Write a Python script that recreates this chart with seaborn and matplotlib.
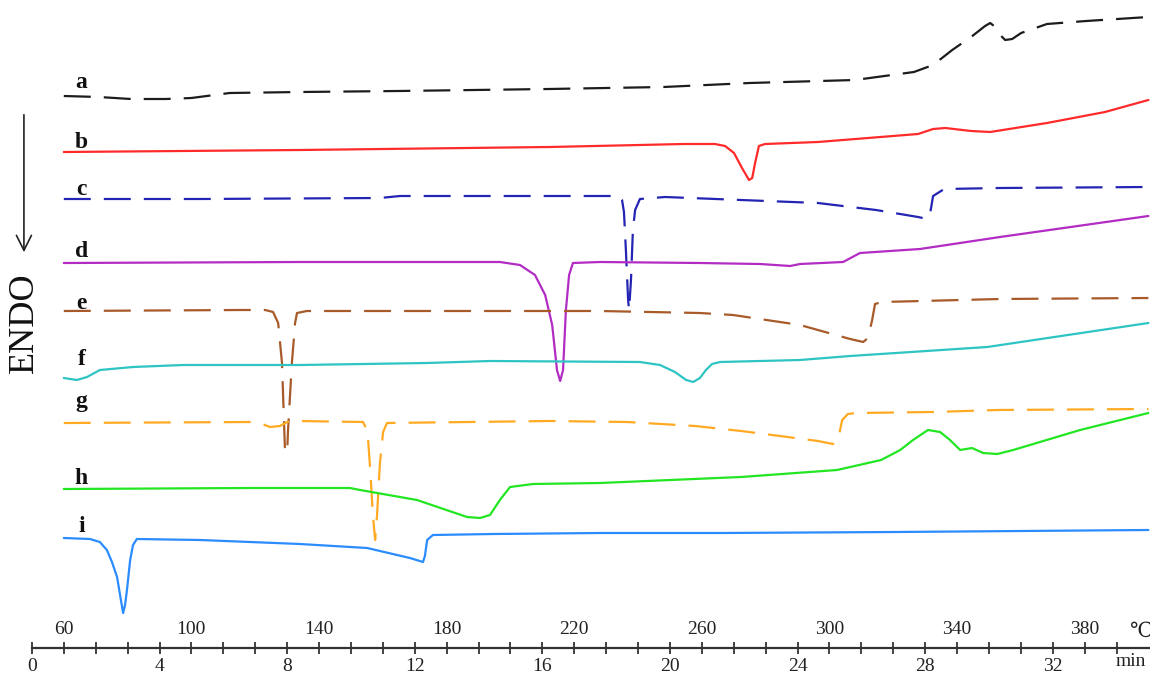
import matplotlib
matplotlib.use("Agg")
import numpy as np
import pandas as pd
import seaborn as sns
import matplotlib.pyplot as plt

# ---------------- data (temperature in °C, heat flow relative to start, arbitrary units) -------------
a_T = [60, 71, 81, 92, 100, 112, 134, 165, 212, 248, 275, 308, 326.5, 332.5, 338.5, 344.4, 348.8, 350.4,
       351.6, 352.9, 355.1, 357.3, 360.1, 368.2, 380.5, 400]
a_HF = [0, -0.1, -0.3, -0.3, -0.2, 0.3, 0.4, 0.5, 0.7, 0.9, 1.3, 1.6, 2.4, 3.1, 4.6, 5.9, 7.0, 7.3,
        7.0, 6.3, 5.6, 5.7, 6.3, 7.2, 7.5, 7.9]

b_T = [60, 134, 212.4, 254.4, 264.1, 267.3, 270.1, 272.6, 274.8, 275.8, 276.7, 277.9, 279.8, 296.4,
       327.8, 332.5, 336.3, 344.4, 350.4, 368.2, 386.4, 400]
b_HF = [0, 0.2, 0.5, 0.8, 0.8, 0.6, -0.1, -1.6, -2.8, -2.6, -1.1, 0.6, 0.8, 1.0,
        1.8, 2.3, 2.4, 2.1, 2.0, 2.9, 4.0, 5.2]

c_T = [60, 102.7, 159.1, 165.4, 234.1, 235.0, 235.6, 236.2, 236.9, 237.2, 237.8, 238.4, 239.1, 240.6,
       248.5, 272.3, 296.4, 314.6, 327.8, 330.6, 331.6, 332.5, 336.0, 353.5, 400]
c_HF = [0, 0, 0.1, 0.3, 0.3, -0.1, -1.3, -5.1, -10.1, -11.1, -8.1, -3.1, -1.1, 0,
        0.2, -0.1, -0.4, -1.1, -1.8, -2.0, -1.4, 0.3, 1.0, 1.1, 1.2]

d_T = [60, 134, 196.7, 203.0, 207.7, 210.9, 213.1, 214.6, 215.6, 216.5, 217.4, 218.4, 219.6, 228.1,
       259.4, 278.3, 287.7, 290.8, 304.3, 309.6, 328.4, 353.5, 400]
d_HF = [0, 0.1, 0.1, -0.2, -1.2, -3.2, -6.2, -10.7, -11.8, -10.7, -4.7, -1.2, 0, 0.1,
        0, -0.1, -0.3, -0.1, 0.1, 1.0, 1.4, 2.6, 4.7]

e_T = [60, 115.2, 123.1, 125.6, 127.2, 128.4, 129.3, 130.0, 130.3, 131.5, 132.5, 133.1, 136.2, 212.4,
       228.1, 259.4, 269.8, 290.8, 306.5, 310.6, 312.1, 313.4, 314.3, 316.5, 353.5, 400]
e_HF = [0, 0.1, 0.1, -0.1, -1.2, -5.2, -13.6, -14.2, -11.9, -5.2, -1.2, -0.2, 0, 0,
        0, -0.2, -0.4, -1.4, -2.8, -3.1, -2.7, -0.9, 0.7, 0.9, 1.2, 1.3]

f_T = [60, 64.1, 67.3, 71.3, 81.7, 97.4, 134, 173.9, 193.6, 240.6, 246.9, 251.6, 255.1, 257.3,
       259.4, 261.3, 263.2, 265.7, 290.8, 306.5, 349.5, 400]
f_HF = [0, -0.2, 0.1, 0.8, 1.1, 1.3, 1.3, 1.5, 1.7, 1.6, 1.3, 0.6, -0.2, -0.4,
        0, 0.8, 1.4, 1.6, 1.8, 2.2, 3.1, 5.5]

g_T = [60, 118.4, 122.2, 124.6, 127.8, 130.0, 133.1, 153.8, 154.7, 155.4, 156.0, 156.9, 157.6, 158.2,
       159.1, 160.1, 161.3, 212.4, 236.6, 257.9, 272.3, 284.5, 296.4, 301.1, 302.7, 304.0, 305.8,
       308.4, 332.5, 352.6, 400]
g_HF = [0, 0.1, -0.1, -0.4, -0.3, 0.1, 0.2, 0.1, -0.5, -1.7, -4.4, -9.2, -11.7, -9.2,
        -4.0, -0.9, 0, 0.2, 0.1, -0.3, -0.8, -1.3, -1.8, -2.1, -1.7, 0.3, 0.9,
        1.0, 1.1, 1.3, 1.4]

h_T = [60, 118.4, 149.7, 152.9, 170.7, 186.4, 190.5, 193.6, 196.7, 199.9, 207.1, 228.1, 272.3, 302.4,
       316.2, 322.2, 326.2, 330.9, 334.7, 337.8, 341.0, 344.7, 348.2, 352.6, 357.6, 378.6, 400]
h_HF = [0, 0.1, 0.1, -0.1, -1.1, -2.8, -2.9, -2.6, -1.1, 0.2, 0.5, 0.6, 1.2, 1.9,
        2.9, 3.9, 4.9, 5.9, 5.7, 4.9, 3.9, 4.1, 3.6, 3.5, 3.9, 5.9, 7.6]

i_T = [60, 68.2, 71.3, 73.5, 75.1, 76.7, 77.9, 78.6, 79.2, 79.8, 80.8, 81.7, 82.9, 102.7,
       118.4, 134.0, 155.1, 168.5, 172.6, 173.2, 173.9, 175.7, 194.6, 228.1, 266.3, 320.6, 400]
i_HF = [0, -0.1, -0.4, -1.2, -2.4, -3.9, -6.2, -7.5, -6.7, -5.2, -2.2, -0.7, -0.1, -0.2,
        -0.4, -0.6, -1.0, -2.0, -2.4, -1.8, -0.2, 0.3, 0.4, 0.5, 0.5, 0.6, 0.8]

curve_labels = ["a", "b", "c", "d", "e", "f", "g", "h", "i"]
min_ticks = [0, 4, 8, 12, 16, 20, 24, 28, 32]
temp_ticks = [60, 100, 140, 180, 220, 260, 300, 340, 380]

# ---------------- layout / style -------------
offsets = [57.8, 52.2, 47.5, 41.1, 36.3, 29.6, 25.1, 18.5, 13.6]
label_dy = [0.8, 0.4, 0.4, 0.6, 0.2, 1.3, 1.6, 0.5, 0.6]
colors = ["#1c1c1c", "#ff2a2a", "#2424b4", "#b22cc4", "#a85a28", "#2ec4c4", "#ffaa22", "#22e622", "#2a8cff"]
dashed = [True, False, True, False, True, False, True, False, False]
LW = 1.6
DASH = (0, (19.4 / LW, 9.4 / LW))

sns.set_theme(style="white")
plt.rcParams["font.family"] = ["Liberation Serif", "DejaVu Serif"]

fig = plt.figure(figsize=(11.5, 6.74), dpi=100)
ax = fig.add_axes([0, 0, 1, 1])

series = [(a_T, a_HF), (b_T, b_HF), (c_T, c_HF), (d_T, d_HF), (e_T, e_HF),
          (f_T, f_HF), (g_T, g_HF), (h_T, h_HF), (i_T, i_HF)]

for k, (T, HF) in enumerate(series):
    df = pd.DataFrame({"T": T, "HF": np.array(HF) + offsets[k]})
    sns.lineplot(data=df, x="T", y="HF", ax=ax, color=colors[k], lw=LW,
                 linestyle=DASH if dashed[k] else "-", sort=False, estimator=None)
    ax.text(65.5, offsets[k] + label_dy[k], curve_labels[k], fontsize=17, fontweight="bold",
            ha="center", va="baseline", color="#111111")

ax.set_xlim(40, 400.5)
ax.set_ylim(0, 67.4)
ax.set_xlabel("")
ax.set_ylabel("")
ax.set_yticks([])
for s in ["left", "top", "right"]:
    ax.spines[s].set_visible(False)
axis_y = 2.6
ax.spines["bottom"].set_position(("data", axis_y))
ax.spines["bottom"].set_bounds(50, 400.5)
ax.spines["bottom"].set_linewidth(1.6)
ax.spines["bottom"].set_color("#333333")

ax.set_xticks([50 + 10 * m for m in min_ticks], labels=[str(m) for m in min_ticks])
ax.set_xticks([50 + 10 * m for m in range(0, 35)], minor=True)
ax.tick_params(axis="x", which="both", direction="inout", length=8, width=1.2,
               colors="#222222", labelsize=14, pad=3, bottom=True)

sec = ax.secondary_xaxis(axis_y / 67.4, functions=(lambda x: x, lambda x: x))
sec.set_alignment("top")
sec.set_xticks(temp_ticks, labels=[str(t) for t in temp_ticks])
sec.tick_params(axis="x", length=0, labelsize=14, pad=7, colors="#222222")
for s in sec.spines.values():
    s.set_visible(False)

ax.text(394.5, axis_y - 0.55, "min", fontsize=14, ha="center", va="top", color="#222222")
ax.text(397.5, axis_y + 0.75, "\u2103", fontsize=15, ha="center", va="bottom", color="#222222",
        family=["DejaVu Serif", "DejaVu Sans"])

ax.text(47.8, 35.1, "ENDO", fontsize=26, rotation=90, ha="center", va="center", color="#111111")
ax.annotate("", xy=(47.5, 41.9), xytext=(47.5, 56.2),
            arrowprops=dict(arrowstyle="->,head_length=0.9,head_width=0.45", lw=1.2, color="#222222"))

fig.savefig("out.png", dpi=100)
